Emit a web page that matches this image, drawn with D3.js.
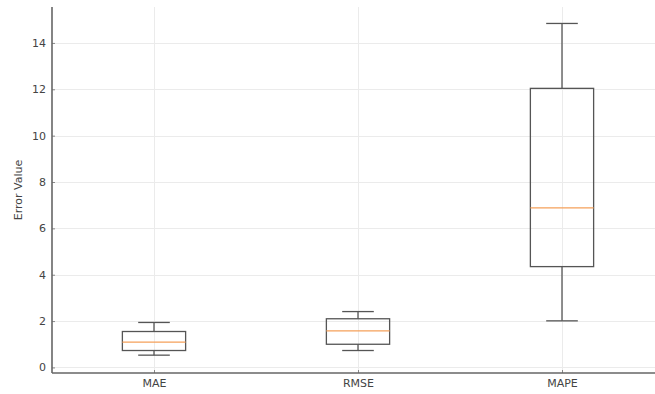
<!DOCTYPE html>
<html>
<head>
<meta charset="utf-8">
<script src="https://cdn.jsdelivr.net/npm/d3@7"></script>
<style>
  html, body { margin: 0; padding: 0; background: #fff; }
  svg { display: block; }
  text { font-family: "DejaVu Sans", sans-serif; }
</style>
</head>
<body>
<svg id="chart" width="655" height="394"></svg>
<script>
// Error metrics summarised as box plots (five-number summaries)
const metrics   = ["MAE", "RMSE", "MAPE"];
const whiskerLo = [0.53, 0.73, 2.01];
const q1        = [0.73, 1.00, 4.35];
const median    = [1.09, 1.58, 6.88];
const q3        = [1.55, 2.10, 12.04];
const whiskerHi = [1.94, 2.41, 14.84];
const yTicks    = [0, 2, 4, 6, 8, 10, 12, 14];
const yLabel    = "Error Value";

const svg = d3.select("#chart");
const W = 655, H = 394;
const plotLeft = 52, plotTop = 7, plotBottom = 373;

// Category positions 1..n on a linear scale, with half-unit padding each side
const x = d3.scaleLinear().domain([0.5, 3.5]).range([plotLeft, 664]);
const y = d3.scaleLinear().domain([-0.24, 15.55]).range([plotBottom, plotTop]);
const boxW = 0.31;

const data = metrics.map((m, i) => ({
  name: m, pos: i + 1,
  lo: whiskerLo[i], q1: q1[i], med: median[i], q3: q3[i], hi: whiskerHi[i]
}));

// Grid
const grid = svg.append("g").attr("stroke", "#ebebeb").attr("stroke-width", 1);
grid.selectAll("line.h").data(yTicks).join("line")
  .attr("x1", plotLeft).attr("x2", W)
  .attr("y1", d => Math.round(y(d)) + 0.5).attr("y2", d => Math.round(y(d)) + 0.5);
grid.selectAll("line.v").data(data).join("line")
  .attr("y1", plotTop).attr("y2", plotBottom)
  .attr("x1", d => Math.round(x(d.pos)) + 0.5).attr("x2", d => Math.round(x(d.pos)) + 0.5);

// Y axis
const yAxis = svg.append("g")
  .attr("transform", `translate(${plotLeft},0)`)
  .call(d3.axisLeft(y).tickValues(yTicks).tickSize(-3).tickPadding(6).tickFormat(d3.format("d")));
yAxis.select(".domain").remove();
yAxis.selectAll(".tick line").attr("stroke", "#888");
yAxis.selectAll(".tick text").attr("fill", "#444").style("font-size", "11px");
svg.append("line")
  .attr("x1", plotLeft).attr("x2", plotLeft).attr("y1", plotTop).attr("y2", plotBottom)
  .attr("stroke", "#666").attr("stroke-width", 1.6);

// X axis
const xAxis = svg.append("g")
  .attr("transform", `translate(0,${plotBottom})`)
  .call(d3.axisBottom(x).tickValues(data.map(d => d.pos)).tickSize(-3).tickPadding(6)
    .tickFormat((d, i) => metrics[i]));
xAxis.select(".domain").remove();
xAxis.selectAll(".tick line").attr("stroke", "#888");
xAxis.selectAll(".tick text").attr("fill", "#444").style("font-size", "11px");
svg.append("line")
  .attr("x1", plotLeft).attr("x2", W).attr("y1", plotBottom).attr("y2", plotBottom)
  .attr("stroke", "#666").attr("stroke-width", 1.6);

// Y label
svg.append("text")
  .attr("transform", `translate(22,${(plotTop + plotBottom) / 2}) rotate(-90)`)
  .attr("text-anchor", "middle")
  .attr("fill", "#444")
  .style("font-size", "11px")
  .text(yLabel);

// Boxes
const boxes = svg.append("g").selectAll("g").data(data).join("g");
const stroke = "#555";

boxes.append("line")
  .attr("x1", d => x(d.pos)).attr("x2", d => x(d.pos))
  .attr("y1", d => y(d.q3)).attr("y2", d => y(d.hi))
  .attr("stroke", stroke).attr("stroke-width", 1.3);
boxes.append("line")
  .attr("x1", d => x(d.pos)).attr("x2", d => x(d.pos))
  .attr("y1", d => y(d.q1)).attr("y2", d => y(d.lo))
  .attr("stroke", stroke).attr("stroke-width", 1.3);
boxes.append("line")
  .attr("x1", d => x(d.pos - boxW / 4)).attr("x2", d => x(d.pos + boxW / 4))
  .attr("y1", d => y(d.hi)).attr("y2", d => y(d.hi))
  .attr("stroke", stroke).attr("stroke-width", 1.3);
boxes.append("line")
  .attr("x1", d => x(d.pos - boxW / 4)).attr("x2", d => x(d.pos + boxW / 4))
  .attr("y1", d => y(d.lo)).attr("y2", d => y(d.lo))
  .attr("stroke", stroke).attr("stroke-width", 1.3);
boxes.append("rect")
  .attr("x", d => x(d.pos - boxW / 2))
  .attr("width", d => x(d.pos + boxW / 2) - x(d.pos - boxW / 2))
  .attr("y", d => y(d.q3))
  .attr("height", d => y(d.q1) - y(d.q3))
  .attr("fill", "none").attr("stroke", stroke).attr("stroke-width", 1.3);
boxes.append("line")
  .attr("x1", d => x(d.pos - boxW / 2)).attr("x2", d => x(d.pos + boxW / 2))
  .attr("y1", d => y(d.med)).attr("y2", d => y(d.med))
  .attr("stroke", "#f5a05a").attr("stroke-width", 1.3);
</script>
</body>
</html>
